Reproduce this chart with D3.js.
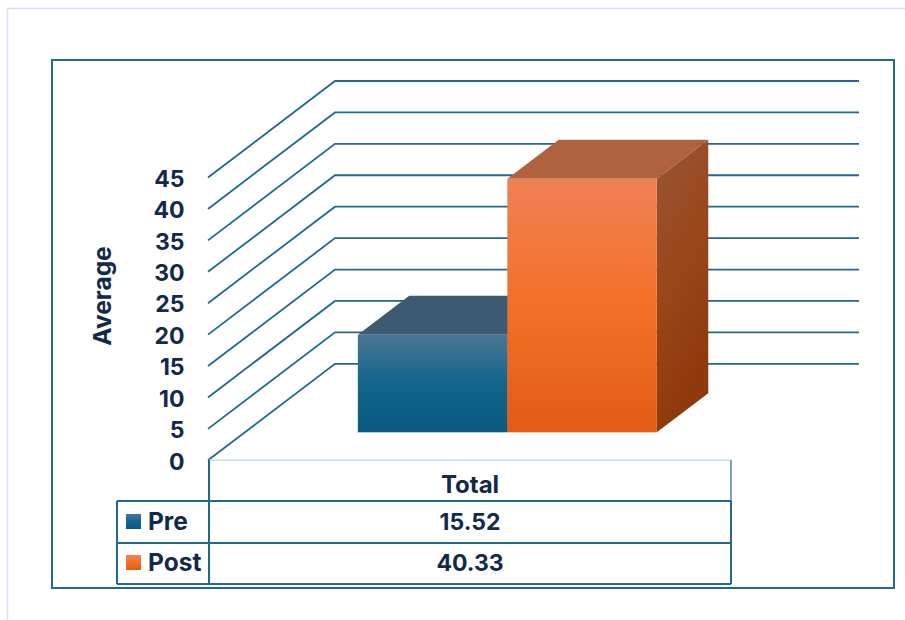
<!DOCTYPE html>
<html>
<head>
<meta charset="utf-8">
<script src="https://cdn.jsdelivr.net/npm/d3@7/dist/d3.min.js"></script>
<style>
html,body{margin:0;padding:0;background:#fff;}
svg{display:block;}
text{font-family:"Inter","Liberation Sans",Arial,sans-serif;font-weight:700;fill:#12294a;}
</style>
</head>
<body>
<div id="chart"></div>
<script>
const categories = ["Total"];
const seriesNames = ["Pre", "Post"];
const preValues = [15.52];
const postValues = [40.33];
const tickValues = [0,5,10,15,20,25,30,35,40,45];
const axisTitle = "Average";

const W = 905, H = 620;
const svg = d3.select("#chart").append("svg").attr("width",W).attr("height",H);
const defs = svg.append("defs");

function grad(id, stops, x2, y2){
  const g = defs.append("linearGradient").attr("id",id).attr("x1",0).attr("y1",0).attr("x2",x2).attr("y2",y2);
  stops.forEach(s=>g.append("stop").attr("offset",s[0]).attr("stop-color",s[1]));
}
grad("preFront",[[0,"#4a7595"],[0.5,"#12658b"],[1,"#085a80"]],0,1);
grad("postFront",[[0,"#f08156"],[0.5,"#f37027"],[1,"#e25b15"]],0,1);
grad("postSide",[[0,"#99553a"],[0.45,"#9a481d"],[1,"#8e390c"]],0.3,1);

const LINE = "#1f6a8c";
const y = d3.scaleLinear().domain([0,45]).range([460.3,177.5]);
const x0 = d3.scaleBand().domain(categories).range([209,731]);
const xs = d3.scaleBand().domain(seriesNames).range([209.5,731.5]).paddingInner(0).paddingOuter(0.746);
const depth = d3.scaleLinear().domain([0,1]).range([0,1]);
const DX = 127, DY = -96.5;
const proj = (xv, val, d) => [xv + DX*depth(d), y(val) + DY*depth(d)];
const line = d3.line();

// page edges
svg.append("path").attr("d","M7.5 620V8.5H905").attr("fill","none").attr("stroke","#d3e3f5").attr("stroke-width",1.5);
// chart frame
svg.append("rect").attr("x",52).attr("y",60).attr("width",842).attr("height",528)
  .attr("fill","#fff").attr("stroke",LINE).attr("stroke-width",2);

// gridlines: side wall + back wall
svg.append("g").selectAll("path").data(tickValues).join("path")
  .attr("d",v=>line([proj(x0.range()[0]-1,v,0),proj(x0.range()[0]-1,v,1),[859,y(v)+DY]]))
  .attr("fill","none").attr("stroke",LINE).attr("stroke-width",1.8);

// floor front edge
svg.append("line").attr("x1",209).attr("x2",731).attr("y1",y(0)).attr("y2",y(0))
  .attr("stroke","#c9dcf2").attr("stroke-width",1.6);

// bars
const D0 = 0.29, D1 = 0.695;
const bars = [
  {name:seriesNames[0],value:preValues[0],front:"url(#preFront)",top:"#3d5a70",side:"#3d5a70"},
  {name:seriesNames[1],value:postValues[0],front:"url(#postFront)",top:"#b06240",side:"url(#postSide)"}
];
const gb = svg.append("g");
bars.forEach(b=>{
  const l = xs(b.name), r = l + xs.bandwidth();
  const g = gb.append("g");
  const poly = pts => line(pts)+"Z";
  g.append("path").attr("d",poly([proj(l,b.value,D0),proj(l,b.value,D1),proj(r,b.value,D1),proj(r,b.value,D0)])).attr("fill",b.top);
  g.append("path").attr("d",poly([proj(r,b.value,D0),proj(r,b.value,D1),proj(r,0,D1),proj(r,0,D0)])).attr("fill",b.side);
  const a = proj(l,b.value,D0), c = proj(r,0,D0);
  g.append("rect").attr("x",a[0]).attr("y",a[1]).attr("width",c[0]-a[0]).attr("height",c[1]-a[1]).attr("fill",b.front);
});

// y axis labels
const axis = d3.axisLeft(y).tickValues(tickValues).tickSize(0).tickPadding(0);
const ga = svg.append("g").attr("transform","translate(184.5,0.5)").call(axis);
ga.select(".domain").remove();
ga.selectAll("text").style("font-size","23px").attr("dy","0.36em");

svg.append("text").attr("transform","translate(111,296) rotate(-90)").attr("text-anchor","middle")
  .style("font-size","24.5px").text(axisTitle);

// data table
const rows = [501,543,584];
const T = svg.append("g").attr("stroke",LINE).attr("stroke-width",2).attr("fill","none");
rows.forEach(yy=>T.append("line").attr("x1",117).attr("x2",731).attr("y1",yy).attr("y2",yy));
T.append("line").attr("x1",209).attr("x2",209).attr("y1",460).attr("y2",584);
T.append("line").attr("x1",117).attr("x2",117).attr("y1",501).attr("y2",584);
T.append("line").attr("x1",731).attr("x2",731).attr("y1",460).attr("y2",501).attr("stroke-width",1.2);
T.append("line").attr("x1",731).attr("x2",731).attr("y1",501).attr("y2",584);

const cx = x0(categories[0]) + x0.bandwidth()/2;
svg.append("text").attr("x",cx).attr("y",485).attr("dy","0.35em").attr("text-anchor","middle").style("font-size","24px").text(categories[0]);
const rowMid = {Pre:522, Post:563};
const vals = {Pre:preValues[0], Post:postValues[0]};
seriesNames.forEach(n=>{
  svg.append("rect").attr("x",126).attr("y",rowMid[n]-8).attr("width",15).attr("height",15)
    .attr("fill",n==="Pre"?"url(#preFront)":"url(#postFront)");
  svg.append("text").attr("x",148).attr("y",rowMid[n]-1).attr("dy","0.35em").style("font-size","24.5px").text(n);
  svg.append("text").attr("x",cx).attr("y",rowMid[n]).attr("dy","0.35em").attr("text-anchor","middle").style("font-size","23px").text(vals[n].toFixed(2));
});
</script>
</body>
</html>
